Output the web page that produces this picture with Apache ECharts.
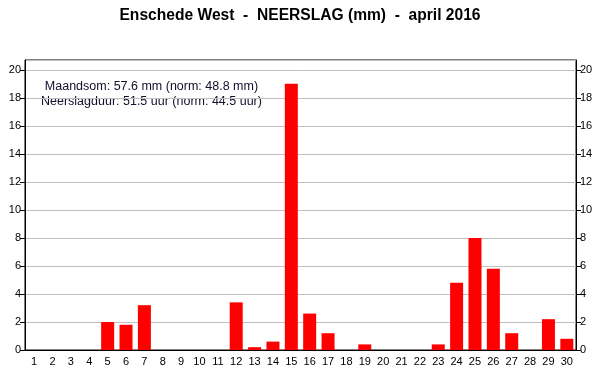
<!DOCTYPE html>
<html><head><meta charset="utf-8">
<script src="https://cdn.jsdelivr.net/npm/echarts@6/dist/echarts.min.js"></script>
<style>html,body{margin:0;padding:0;background:#fff}#c{width:600px;height:390px}</style>
</head><body><div id="c"></div>
<script>
var days = ['1','2','3','4','5','6','7','8','9','10','11','12','13','14','15','16','17','18','19','20','21','22','23','24','25','26','27','28','29','30'];
var rain = [0,0,0,0,2.0,1.8,3.2,0,0,0,0,3.4,0.2,0.6,19.0,2.6,1.2,0,0.4,0,0,0,0.4,4.8,8.0,5.8,1.2,0,2.2,0.8];
var titleText = 'Enschede West  -  NEERSLAG (mm)  -  april 2016';
var noteLines = ['Maandsom: 57.6 mm (norm: 48.8 mm)', 'Neerslagduur: 51.5 uur (norm: 44.5 uur)'];

var font = 'Liberation Sans, Arial, sans-serif';
var chart = echarts.init(document.getElementById('c'));
function yAx(pos){
  return {
    type:'value', position:pos, min:0, max:20.7, interval:2,
    axisLine:{show:true,lineStyle:{color:'#000'}},
    axisTick:{show:true,length:5,lineStyle:{color:'#000'}},
    axisLabel:{color:'#000',fontSize:11,fontFamily:font,margin:4,showMaxLabel:false},
    splitLine:{show:pos==='left',lineStyle:{color:'#c0c0c0',width:1}}
  };
}
chart.setOption({
  animation:false,
  title:{text:titleText,left:'center',top:3,textStyle:{fontFamily:font,fontSize:15.6,fontWeight:'bold',color:'#000'}},
  grid:{left:25,right:24,top:60,bottom:40,show:true,borderColor:'#000',borderWidth:1,backgroundColor:'#fff'},
  xAxis:{type:'category',data:days,
    axisLine:{lineStyle:{color:'#000'}},
    axisTick:{alignWithLabel:true,length:4,lineStyle:{color:'#000'}},
    axisLabel:{color:'#000',fontSize:11,fontFamily:font,margin:6,interval:0}},
  yAxis:[yAx('left'),yAx('right')],
  series:[{type:'bar',data:rain,barWidth:13,itemStyle:{color:'#ff0000'}}],
  graphic:[{type:'text',left:41,top:79,style:{text:noteLines.join('\n'),fontFamily:font,fontSize:12.5,fill:'#10102a',textAlign:'center',lineHeight:15}}]
});
</script></body></html>
